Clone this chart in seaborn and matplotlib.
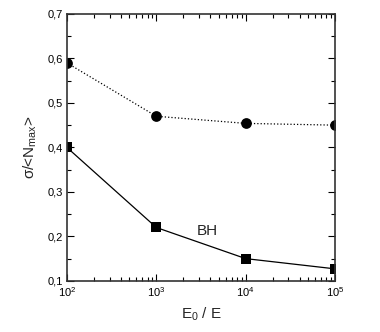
import matplotlib
matplotlib.use("Agg")
import matplotlib.pyplot as plt
import seaborn as sns
import pandas as pd
from matplotlib.ticker import FuncFormatter, LogLocator, MultipleLocator

energy_ratio = [1e2, 1e3, 1e4, 1e5]
circles = [0.59, 0.47, 0.454, 0.450]
squares_bh = [0.40, 0.22, 0.150, 0.127]
x_ticks = [1e2, 1e3, 1e4, 1e5]
x_tick_labels = ["$10^2$", "$10^3$", "$10^4$", "$10^5$"]
y_ticks = [0.1, 0.2, 0.3, 0.4, 0.5, 0.6, 0.7]

sns.set_style("white")
plt.rcParams['font.family'] = ['Liberation Sans', 'DejaVu Sans']
plt.rcParams['mathtext.fontset'] = 'custom'
plt.rcParams['mathtext.rm'] = 'Liberation Sans'
plt.rcParams['mathtext.it'] = 'Liberation Sans'

df_c = pd.DataFrame({"x": energy_ratio, "y": circles})
df_s = pd.DataFrame({"x": energy_ratio, "y": squares_bh})

fig = plt.figure(figsize=(3.8, 3.32), dpi=100)
ax = fig.add_axes([0.176, 0.154, 0.706, 0.804])

sns.lineplot(data=df_c, x="x", y="y", ax=ax, color="black", linestyle=":", linewidth=0.9)
sns.lineplot(data=df_s, x="x", y="y", ax=ax, color="black", linestyle="-", linewidth=0.9)
sns.scatterplot(data=df_c, x="x", y="y", ax=ax, color="black", marker="o", s=60,
                linewidth=0, zorder=3)
sns.scatterplot(data=df_s, x="x", y="y", ax=ax, color="black", marker="s", s=50,
                linewidth=0, zorder=3)

ax.set_xscale("log")
ax.set_xlim(1e2, 1e5)
ax.set_ylim(0.1, 0.7)

ax.set_xticks(x_ticks)
ax.set_xticklabels(x_tick_labels)
ax.xaxis.set_minor_locator(LogLocator(base=10, subs=range(2, 10), numticks=20))
ax.set_yticks(y_ticks)
ax.yaxis.set_minor_locator(MultipleLocator(0.05))
ax.yaxis.set_major_formatter(FuncFormatter(lambda v, p: f"{v:.1f}".replace(".", ",")))

ax.tick_params(which="both", direction="in", top=True, right=True, bottom=True, left=True,
               labelsize=8, colors="black", width=0.8)
ax.tick_params(which="major", length=5, pad=3)
ax.tick_params(which="minor", length=3)
for s in ax.spines.values():
    s.set_color("#333333")
    s.set_linewidth(1.2)
    s.set_zorder(5)

ax.set_xlabel("E$_0$ / E", fontsize=11, labelpad=5)
ax.set_ylabel("σ/<N$_{max}$>", fontsize=11, labelpad=6)

ax.text(2860, 0.213, "BH", fontsize=11, va="center", ha="left")

fig.savefig("out.png", dpi=100)
